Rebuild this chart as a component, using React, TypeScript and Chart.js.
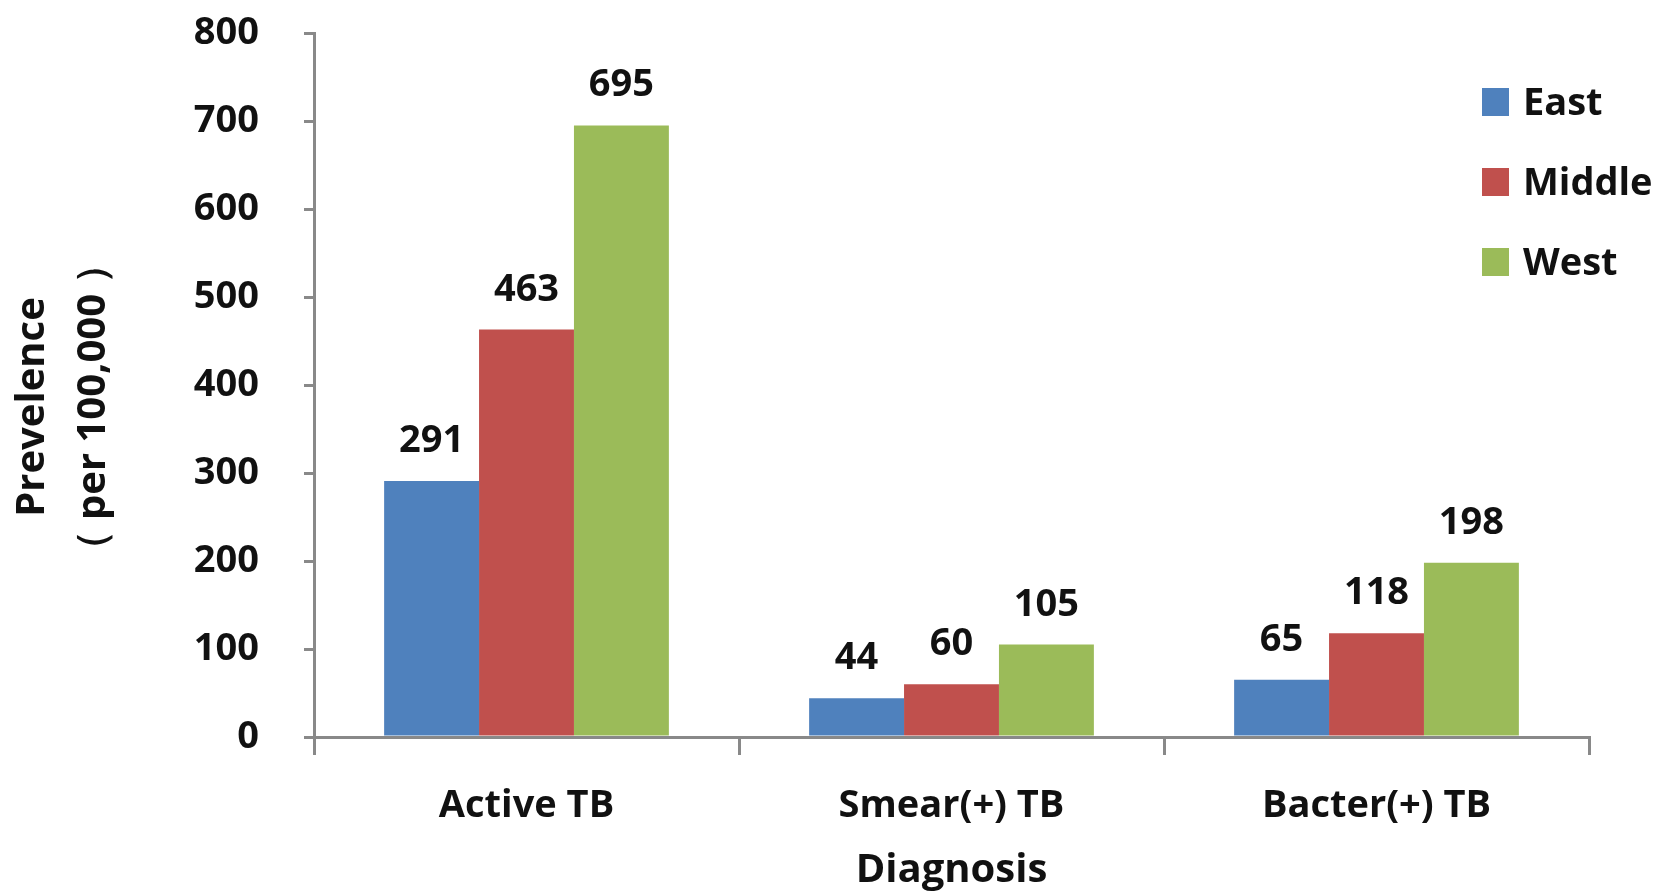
import React, { useEffect, useRef } from "react";
import { Chart, registerables } from "chart.js";

Chart.register(...registerables);

const categories = ["Active TB", "Smear(+) TB", "Bacter(+) TB"];
const seriesNames = ["East", "Middle", "West"];
const eastValues = [291, 44, 65];
const middleValues = [463, 60, 118];
const westValues = [695, 105, 198];
const seriesColors = ["#4F81BD", "#C0504D", "#9BBB59"];
const yMin = 0;
const yMax = 800;
const yStep = 100;
const yTitleLines = ["Prevelence", "（ per 100,000 ）"];
const xTitle = "Diagnosis";

const FONT = "'Open Sans', 'Noto Sans', sans-serif";
const AXIS_COLOR = "#898989";
const TEXT_COLOR = "#111111";

const dataLabelPlugin = {
  id: "dataLabels",
  afterDatasetsDraw(chart: any) {
    const ctx = chart.ctx;
    ctx.save();
    ctx.font = `bold 38px ${FONT}`;
    ctx.fillStyle = TEXT_COLOR;
    ctx.textAlign = "center";
    ctx.textBaseline = "alphabetic";
    chart.data.datasets.forEach((ds: any, i: number) => {
      const meta = chart.getDatasetMeta(i);
      meta.data.forEach((bar: any, j: number) => {
        ctx.fillText(String(ds.data[j]), bar.x, bar.y - 29);
      });
    });
    ctx.restore();
  },
};

const legendPlugin = {
  id: "customLegend",
  afterDraw(chart: any) {
    const ctx = chart.ctx;
    ctx.save();
    ctx.font = `bold 38px ${FONT}`;
    ctx.textAlign = "left";
    ctx.textBaseline = "middle";
    chart.data.datasets.forEach((ds: any, i: number) => {
      const cy = 102 + i * 80;
      ctx.fillStyle = ds.backgroundColor;
      ctx.fillRect(1482, cy - 14, 27, 28);
      ctx.fillStyle = TEXT_COLOR;
      ctx.fillText(ds.label, 1523, cy + 2);
    });
    ctx.restore();
  },
};

const yTitlePlugin = {
  id: "yTitle",
  afterDraw(chart: any) {
    const ctx = chart.ctx;
    ctx.save();
    ctx.font = `bold 40px ${FONT}`;
    ctx.fillStyle = TEXT_COLOR;
    ctx.textAlign = "center";
    ctx.textBaseline = "middle";
    ctx.translate(0, 407);
    ctx.rotate(-Math.PI / 2);
    yTitleLines.forEach((line, i) => {
      ctx.fillText(line, 0, 33 + i * 61);
    });
    ctx.restore();
  },
};

export default function App() {
  const canvasRef = useRef<HTMLCanvasElement | null>(null);

  useEffect(() => {
    if (!canvasRef.current) return;
    const chart = new Chart(canvasRef.current, {
      type: "bar",
      data: {
        labels: categories,
        datasets: [
          { label: seriesNames[0], data: eastValues, backgroundColor: seriesColors[0] },
          { label: seriesNames[1], data: middleValues, backgroundColor: seriesColors[1] },
          { label: seriesNames[2], data: westValues, backgroundColor: seriesColors[2] },
        ],
      },
      options: {
        responsive: false,
        animation: false,
        layout: { padding: { left: 0, top: 33, right: 69, bottom: 0 } },
        datasets: { bar: { categoryPercentage: 0.67, barPercentage: 1.0, borderWidth: 0 } },
        plugins: { legend: { display: false }, tooltip: { enabled: false }, title: { display: false } },
        scales: {
          x: {
            afterFit: (scale: any) => {
              scale.height = 154;
              scale.paddingLeft = 0;
              scale.paddingRight = 0;
            },
            grid: {
              drawOnChartArea: false,
              drawTicks: true,
              tickLength: 18,
              tickColor: AXIS_COLOR,
              tickWidth: 3,
              color: AXIS_COLOR,
              lineWidth: 3,
            },
            border: { display: true, color: AXIS_COLOR, width: 3 },
            ticks: {
              color: TEXT_COLOR,
              font: { family: FONT, size: 38, weight: "bold" },
              padding: 28,
            },
            title: {
              display: true,
              text: xTitle,
              color: TEXT_COLOR,
              font: { family: FONT, size: 40, weight: "bold", lineHeight: 1 },
              padding: { top: 0, bottom: 0 },
            },
          },
          y: {
            min: yMin,
            max: yMax,
            afterFit: (scale: any) => {
              scale.width = 314;
              scale.paddingTop = 0;
              scale.paddingBottom = 0;
            },
            grid: {
              drawOnChartArea: false,
              drawTicks: true,
              tickLength: 10,
              tickColor: AXIS_COLOR,
              tickWidth: 3,
              color: AXIS_COLOR,
              lineWidth: 3,
            },
            border: { display: true, color: AXIS_COLOR, width: 3 },
            ticks: {
              stepSize: yStep,
              color: TEXT_COLOR,
              font: { family: FONT, size: 38, weight: "bold" },
              padding: 45,
            },
          },
        },
      },
      plugins: [dataLabelPlugin, legendPlugin, yTitlePlugin],
    });
    return () => chart.destroy();
  }, []);

  return (
    <div style={{ position: "fixed", left: 0, top: 0, width: 1658, height: 891, background: "#fff" }}>
      <canvas ref={canvasRef} width={1658} height={891} style={{ display: "block" }} />
    </div>
  );
}
